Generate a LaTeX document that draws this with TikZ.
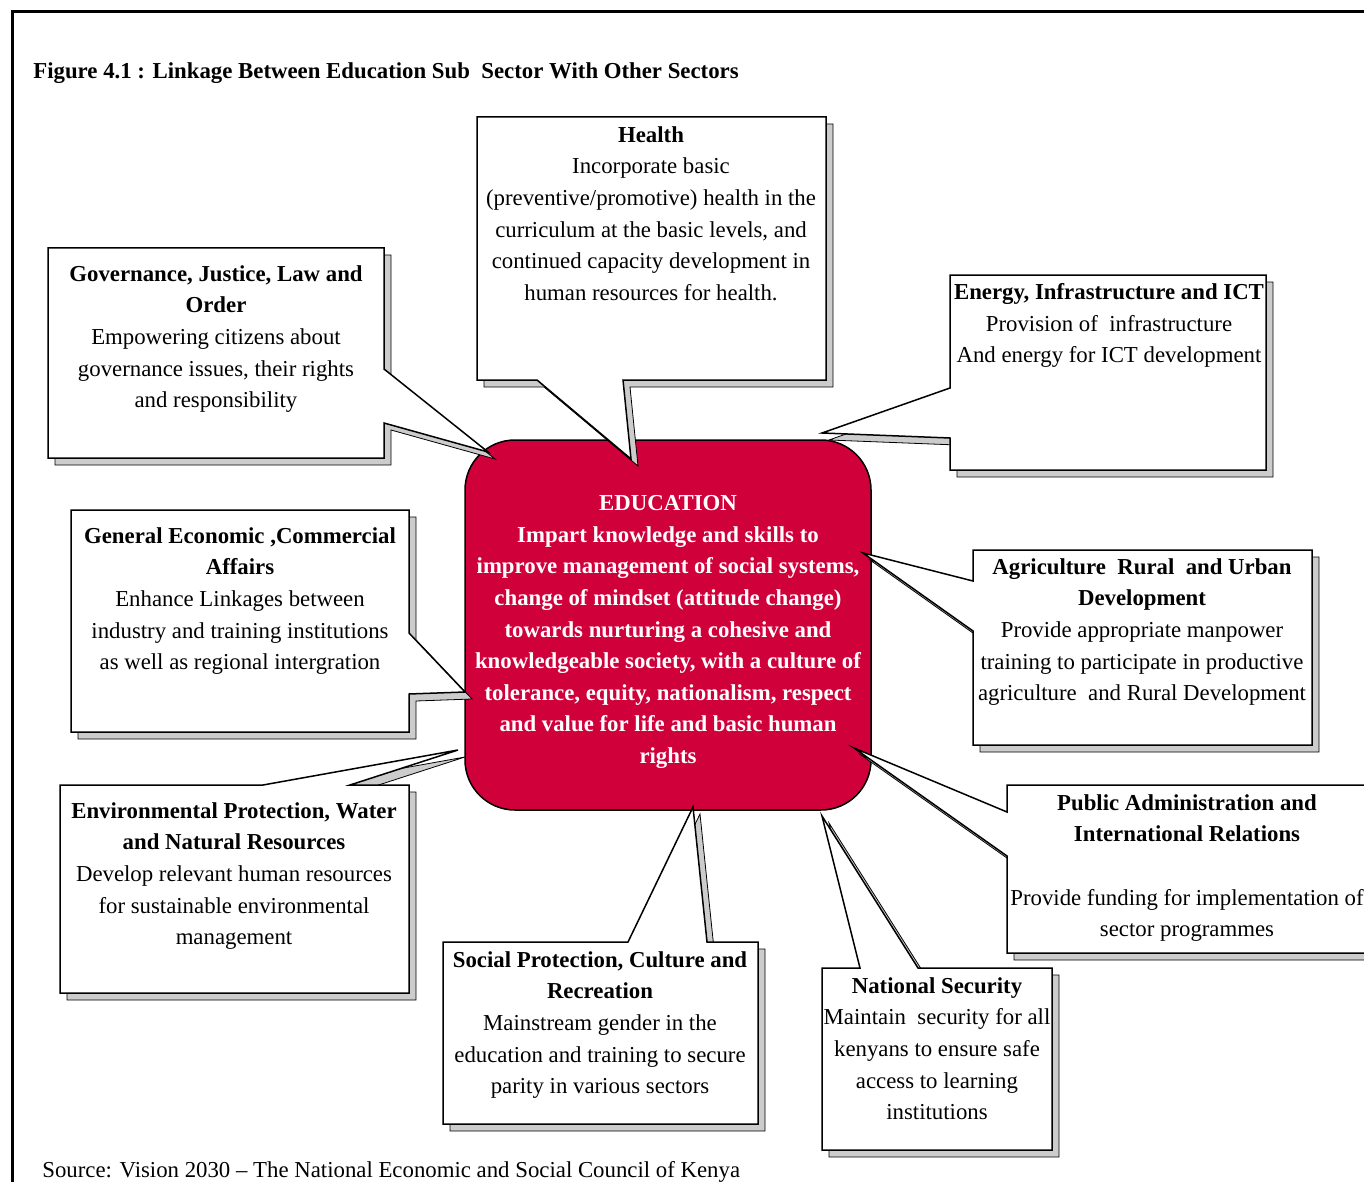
\documentclass[tikz,border=0pt]{standalone}
\usepackage{fontspec}
\setmainfont{Liberation Serif}
\definecolor{edured}{RGB}{208,0,58}
\definecolor{shadegray}{RGB}{204,204,204}

\begin{document}
\begin{tikzpicture}[x=0.5pt, y=-0.5pt,
	every node/.style={font=\fontsize{11.4pt}{15.8pt}\selectfont, inner sep=0pt},
	txt/.style={align=center, anchor=north},
	callout/.style={draw, line width=0.75pt, fill=white},
	shade/.style={fill=shadegray, shift={(7,7)}}]
	\useasboundingbox (0,0) rectangle (1364,1182);
	% outer frame
	\draw[line width=1.5pt] (1400,12) -- (12,12) -- (12,1200);
	\node[anchor=west, font=\fontsize{11.4pt}{15.8pt}\selectfont\bfseries] (title) at (33,73) {Figure 4.1 : Linkage Between Education Sub\ \ Sector With Other Sectors};
	\node[anchor=west] (source) at (42,1172) {Source: Vision 2030 -- The National Economic and Social Council of Kenya};
	% centre box
	\node[draw, line width=0.75pt, fill=edured, rounded corners=25pt, minimum width=203pt, minimum height=185pt] (edu) at (668,625) {};
	\node[text=white, align=center, font=\fontsize{11.4pt}{15.8pt}\selectfont\bfseries] (edutext) at ([yshift=-3.5pt]edu.center) {EDUCATION\\Impart knowledge and skills to\\improve management of social systems,\\change of mindset (attitude change)\\towards nurturing a cohesive and\\knowledgeable society, with a culture of\\tolerance, equity, nationalism, respect\\and value for life and basic human\\rights};
	% callouts: shadow first, then the box
	\foreach \s in {shade, callout} {
		\draw[\s] (477,117) -- (826,117) -- (826,380) -- (623,380) -- (631,459) -- (537,380) -- (477,380) -- cycle;
		\draw[\s] (48,248) -- (384,248) -- (384,369) -- (488,452) -- (384,423) -- (384,458) -- (48,458) -- cycle;
		\draw[\s] (950,275) -- (1266,275) -- (1266,470) -- (950,470) -- (950,438) -- (822,433) -- (950,388) -- cycle;
		\draw[\s] (71,510) -- (409,510) -- (409,633) -- (465,692) -- (409,694) -- (409,732) -- (71,732) -- cycle;
		\draw[\s] (973,550) -- (1312,550) -- (1312,745) -- (973,745) -- (973,631) -- (863,553) -- (973,581) -- cycle;
		\draw[\s] (1007,785) -- (1390,785) -- (1390,953) -- (1007,953) -- (1007,856) -- (854,748) -- (1007,812) -- cycle;
		\draw[\s] (60,785) -- (263,785) -- (458,750) -- (350,785) -- (409,785) -- (409,993) -- (60,993) -- cycle;
		\draw[\s] (443,942) -- (628,942) -- (693,807) -- (707,942) -- (758,942) -- (758,1124) -- (443,1124) -- cycle;
		\draw[\s] (822,968) -- (860,968) -- (822,816) -- (918,968) -- (1052,968) -- (1052,1150) -- (822,1150) -- cycle;
	}
	% callout texts
	\node[txt] (health) at (651,126) {\textbf{Health}\\Incorporate basic\\(preventive/promotive) health in the\\curriculum at the basic levels, and\\continued capacity development in\\human resources for health.};
	\node[txt] (gov) at (216,265) {\textbf{Governance, Justice, Law and}\\\textbf{Order}\\Empowering citizens about\\governance issues, their rights\\and responsibility};
	\node[txt] (energy) at (1109,283) {\textbf{Energy, Infrastructure and ICT}\\Provision of\ \ infrastructure\\And energy for ICT development};
	\node[txt] (econ) at (240,527) {\textbf{General Economic ,Commercial}\\\textbf{Affairs}\\Enhance Linkages between\\industry and training institutions\\as well as regional intergration};
	\node[txt] (agri) at (1142,558) {\textbf{Agriculture\ \ Rural\ \ and Urban}\\\textbf{Development}\\Provide appropriate manpower\\training to participate in productive\\agriculture\ \ and Rural Development};
	\node[txt] (env) at (234,802) {\textbf{Environmental Protection, Water}\\\textbf{and Natural Resources}\\Develop relevant human resources\\for sustainable environmental\\management};
	\node[txt] (public) at (1187,794) {\textbf{Public Administration and}\\\textbf{International Relations}\\[15.8pt]Provide funding for implementation of\\sector programmes};
	\node[txt] (social) at (600,951) {\textbf{Social Protection, Culture and}\\\textbf{Recreation}\\Mainstream gender in the\\education and training to secure\\parity in various sectors};
	\node[txt] (security) at (937,977) {\textbf{National Security}\\Maintain\ \ security for all\\kenyans to ensure safe\\access to learning\\institutions};
\end{tikzpicture}
\end{document}
